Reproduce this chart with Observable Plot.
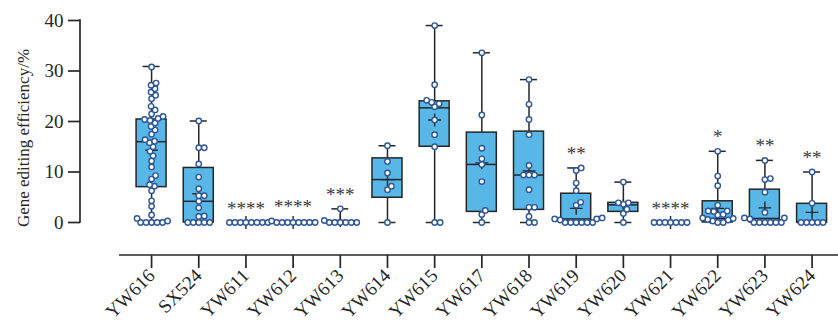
<!DOCTYPE html>
<html>
<head>
<meta charset="utf-8">
<script src="https://cdn.jsdelivr.net/npm/d3@7"></script>
<script src="https://cdn.jsdelivr.net/npm/@observablehq/plot@0.6"></script>
<style>
  html, body { margin: 0; padding: 0; background: #fff; }
  #chart svg { display: block; }
</style>
</head>
<body>
<div id="chart"></div>
<script>
// ---------- data ----------
const categories = ["YW616","SX524","YW611","YW612","YW613","YW614","YW615","YW617","YW618","YW619","YW620","YW621","YW622","YW623","YW624"];

// box statistics per category
const mins    = [0,    0,    0, 0,   0,   0,    0,    0,    0,    0,    0,   0, 0,    0,    0];
const q1s     = [7.0,  0,    0, 0,   0,   4.9,  15.0, 2.1,  2.5,  0,    2.1, 0, 0,    0,    0];
const medians = [16.0, 4.2,  0, 0,   0,   8.5,  22.7, 11.5, 9.4,  0.7,  3.5, 0, 0.8,  0.8,  0];
const q3s     = [20.4, 10.8, 0, 0,   0,   12.7, 24.0, 17.8, 18.0, 5.7,  3.9, 0, 4.2,  6.5,  3.7];
const maxs    = [30.9, 20.1, 0, 0.3, 2.7, 15.2, 39.0, 33.6, 28.3, 10.8, 8.0, 0, 14.1, 12.3, 10.0];
const means   = [14.3, 5.7,  0, 0,   0.4, 8.5,  20.3, 11.8, 10.2, 2.8,  3.4, 0, 2.8,  2.9,  2.0];
const stars   = ["", "", "****", "****", "***", "", "", "", "", "**", "", "****", "*", "**", "**"];

// individual measurements per category (same order as categories)
const YW616 = [0,0,0,0,0,0.3,0.8,1.5,3.2,4.3,6.3,7.2,7.5,8.6,9.3,11.0,12.2,13.2,14.1,15.0,15.8,16.1,16.4,17.5,18.3,19.0,19.7,20.2,20.4,20.6,21.0,21.5,22.3,23.0,24.5,25.2,25.8,26.5,27.2,27.6,30.8];
const SX524 = [0,0,0,0,0,1.2,1.3,2.9,4.2,5.3,5.3,6.7,9.0,11.6,14.8,14.8,20.1];
const YW611 = [0,0,0,0,0,0,0,0];
const YW612 = [0,0,0,0,0,0,0,0,0.3];
const YW613 = [0,0,0,0,0,0,0.4,2.7];
const YW614 = [0,6.5,7.2,9.8,12.1,15.2];
const YW615 = [0,0,15.0,17.4,20.3,22.9,23.5,23.8,24.2,27.3,39.0];
const YW617 = [0,1.6,2.4,8.1,11.5,12.6,14.7,21.3,33.6];
const YW618 = [0,0,1.2,3.0,3.0,6.5,9.4,9.4,9.4,11.3,17.4,20.4,23.4,28.3];
const YW619 = [0,0,0,0,0,0,0.5,0.7,0.7,0.9,3.4,4.0,6.3,7.8,10.3,10.8];
const YW620 = [0,1.8,2.6,3.6,3.9,3.9,8.0];
const YW621 = [0,0,0,0,0,0,0];
const YW622 = [0,0,0.3,0.5,0.6,0.8,0.9,1.5,1.6,2.2,2.3,2.3,3.4,7.3,9.2,14.1];
const YW623 = [0,0,0,0,0,0,0.7,0.9,0.9,2.0,6.0,8.5,8.7,12.3];
const YW624 = [0,0,0,0,0,3.8,10.0];
const groupValues = [YW616,SX524,YW611,YW612,YW613,YW614,YW615,YW617,YW618,YW619,YW620,YW621,YW622,YW623,YW624];

const yTicks = [0, 10, 20, 30, 40];
const yLabel = "Gene editing efficiency/%";

// ---------- layout ----------
const W = 838, H = 327;
const marginLeft = 80, marginTop = 20, marginRight = 0, marginBottom = 72;
const yRange = [222, 20];
const xRange = [119, 838];
const xDomain = [-0.68, categories.length - 1 + 0.56];
const yDomain = [0, 40];
const FONT = "Liberation Serif";

const xs = d3.scaleLinear(xDomain, xRange);
const ys = d3.scaleLinear(yDomain, yRange);
const pxPerX = xs(1) - xs(0);

// beeswarm layout (pixel space) so overlapping values spread sideways
function swarm(vals, d) {
  const placed = [];
  return vals.map(v => {
    const y = ys(v);
    let best = 0;
    for (let k = 0; k < 400; k++) {
      const cands = k === 0 ? [0] : [k * 0.5, -k * 0.5];
      let found = null;
      for (const c of cands) {
        if (placed.every(p => (p.x - c) ** 2 + (p.y - y) ** 2 >= d * d)) { found = c; break; }
      }
      if (found !== null) { best = found; break; }
    }
    placed.push({x: best, y});
    return best;
  });
}

const pointRows = [];
groupValues.forEach((vals, i) => {
  const sorted = vals.slice().sort((a, b) => a - b);
  const offs = swarm(sorted, 5.2);
  sorted.forEach((v, j) => pointRows.push({x: i + offs[j] / pxPerX, y: v, cat: categories[i]}));
});

const boxHalf = 15 / pxPerX;
const capHalf = 8.5 / pxPerX;
const stats = categories.map((c, i) => ({
  i, cat: c, min: mins[i], q1: q1s[i], med: medians[i], q3: q3s[i], max: maxs[i], mean: means[i], star: stars[i],
  x1: i - boxHalf, x2: i + boxHalf, c1: i - capHalf, c2: i + capHalf
}));

const INK = "#262626";
const BOX = "#58B7E7";
const PT = "#2F5697";

// axis lines drawn with the plot's scales
const yAxisLine = (index, scales, values, dims) => {
  const g = d3.create("svg:line")
    .attr("x1", dims.marginLeft).attr("x2", dims.marginLeft)
    .attr("y1", scales.y(yDomain[0]) + 0.8).attr("y2", scales.y(yDomain[1]) - 0.8)
    .attr("stroke", INK).attr("stroke-width", 1.7);
  return g.node();
};
const xAxisLine = (index, scales, values, dims) => {
  const yy = dims.height - dims.marginBottom;
  const g = d3.create("svg:line")
    .attr("x1", scales.x(xDomain[0])).attr("x2", scales.x(xDomain[1]))
    .attr("y1", yy).attr("y2", yy)
    .attr("stroke", INK).attr("stroke-width", 1.7);
  return g.node();
};

const chart = Plot.plot({
  width: W, height: H,
  marginLeft, marginTop, marginRight, marginBottom,
  style: {fontFamily: FONT, fontSize: "17px", color: INK, background: "#fff"},
  x: {type: "linear", domain: xDomain, range: xRange},
  y: {domain: yDomain, range: yRange},
  marks: [
    // whiskers
    Plot.ruleX(stats, {x: "i", y1: "min", y2: "q1", stroke: INK, strokeWidth: 1.5}),
    Plot.ruleX(stats, {x: "i", y1: "q3", y2: "max", stroke: INK, strokeWidth: 1.5}),
    // caps
    Plot.ruleY(stats, {y: "max", x1: "c1", x2: "c2", stroke: INK, strokeWidth: 1.5}),
    Plot.ruleY(stats, {y: "min", x1: "c1", x2: "c2", stroke: INK, strokeWidth: 1.5}),
    // boxes
    Plot.rect(stats, {x1: "x1", x2: "x2", y1: "q1", y2: "q3", fill: BOX, stroke: INK, strokeWidth: 1.5}),
    Plot.ruleY(stats, {y: "med", x1: "x1", x2: "x2", stroke: INK, strokeWidth: 1.5}),
    // means
    Plot.dot(stats, {x: "i", y: "mean", symbol: "plus", r: 4.2, stroke: INK, strokeWidth: 1.4}),
    // individual points
    Plot.dot(pointRows, {x: "x", y: "y", r: 2.7, fill: "#fff", stroke: PT, strokeWidth: 1.4}),
    // significance stars
    Plot.text(stats.filter(d => d.star), {x: "i", y: "max", text: "star", dy: -14, fontSize: 19, fill: "#3a3a3a", lineAnchor: "middle"}),
    // axes
    Plot.axisY({ticks: yTicks, tickSize: 12, tickPadding: 5, fontSize: 19, strokeWidth: 1.7, stroke: INK,
      label: yLabel, labelAnchor: "center", labelOffset: 64, labelArrow: "none"}),
    Plot.axisX({ticks: d3.range(categories.length), tickFormat: i => categories[i], tickRotate: -45,
      tickSize: 13, tickPadding: 4, fontSize: 19, strokeWidth: 1.7, stroke: INK, label: null}),
    yAxisLine,
    xAxisLine
  ]
});
// y-axis title keeps the smaller size of the reference
chart.querySelectorAll("text").forEach(t => { if (t.textContent === yLabel) t.setAttribute("font-size", 17); });
document.getElementById("chart").appendChild(chart);
</script>
</body>
</html>
